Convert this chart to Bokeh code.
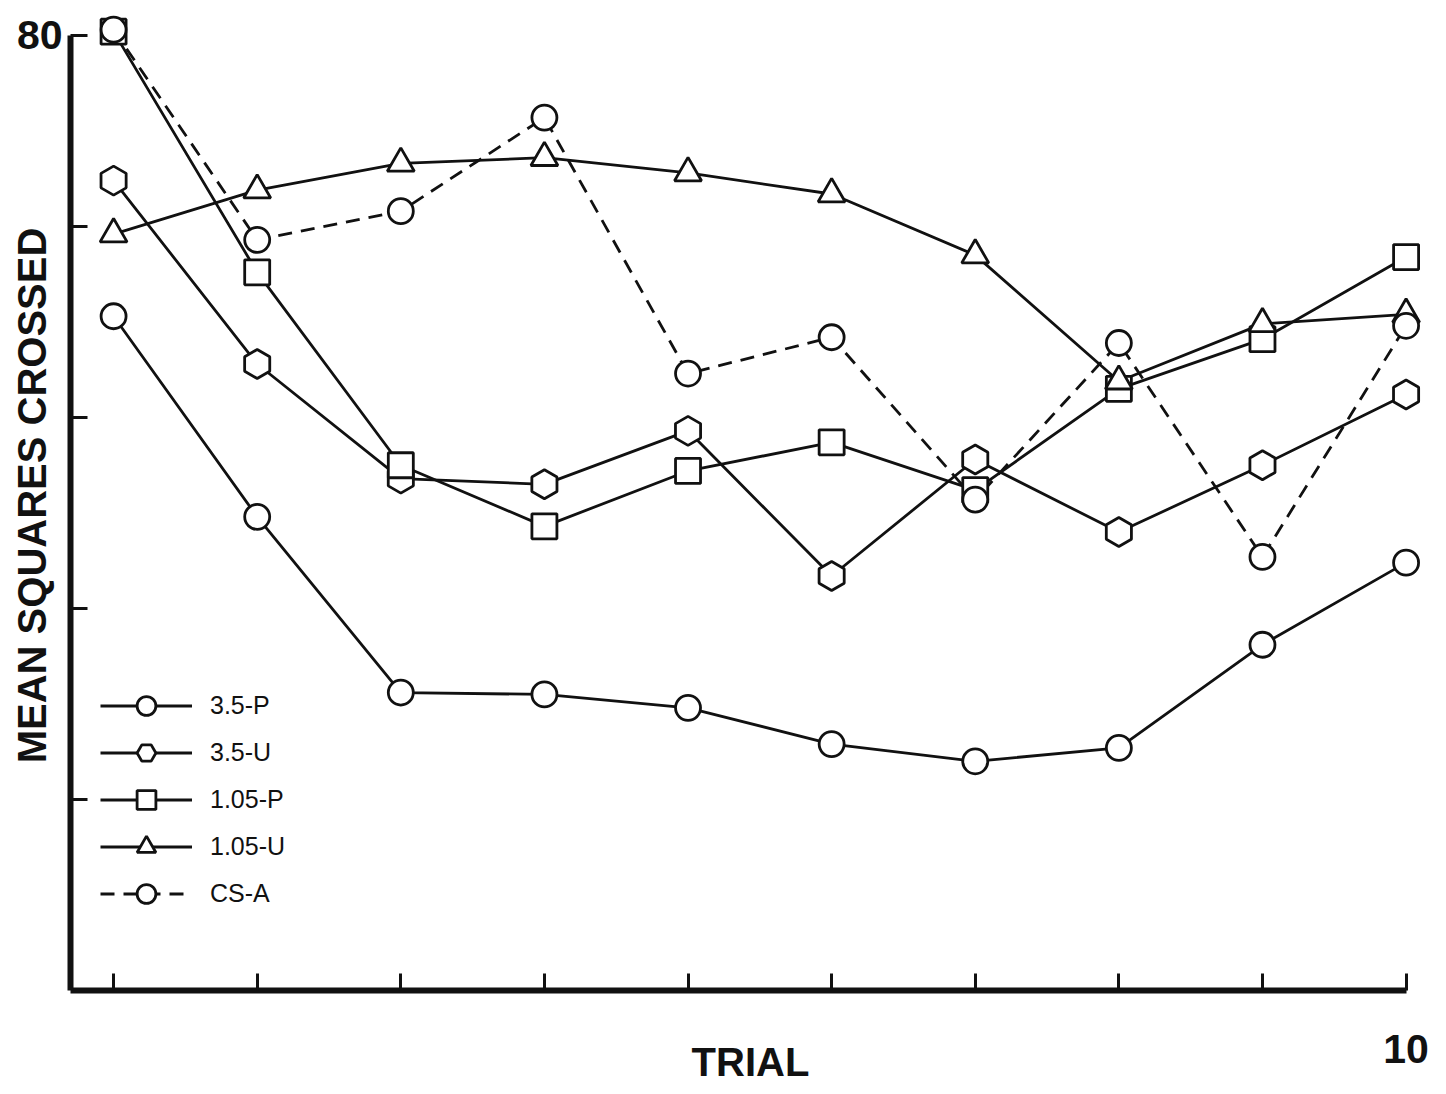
from math import pi

from bokeh.embed import file_html
from bokeh.models import FixedTicker, Legend, LegendItem, Range1d
from bokeh.plotting import figure
from bokeh.resources import INLINE

# Mean squares crossed per trial, five groups
trials = [1, 2, 3, 4, 5, 6, 7, 8, 9, 10]
p_35 = [65.3, 54.8, 45.6, 45.5, 44.8, 42.9, 42.0, 42.7, 48.1, 52.4]
u_35 = [72.4, 62.8, 56.8, 56.5, 59.3, 51.7, 57.8, 54.0, 57.5, 61.2]
p_105 = [80.2, 67.6, 57.5, 54.3, 57.2, 58.7, 56.2, 61.5, 64.1, 68.4]
u_105 = [69.6, 71.9, 73.3, 73.6, 72.8, 71.7, 68.5, 61.9, 64.9, 65.4]
cs_a = [80.3, 69.3, 70.8, 75.7, 62.3, 64.2, 55.7, 63.9, 52.7, 64.8]

y_ticks = [40, 50, 60, 70, 80]
x_tick_text = {1: "", 2: "", 3: "", 4: "", 5: "", 6: "", 7: "", 8: "", 9: "", 10: "10"}
y_tick_text = {40: "", 50: "", 60: "", 70: "", 80: "80"}

FONT = "Liberation Sans"
INK = "#111111"

X0, X1 = 0.70, 10.17
Y0, Y1 = 30, 81.83

p = figure(
    width=1446, height=1094,
    output_backend="svg", toolbar_location=None,
    x_range=Range1d(X0, X1), y_range=Range1d(Y0, Y1),
    min_border_left=70, min_border_right=16, min_border_top=0, min_border_bottom=104,
    background_fill_color="white", border_fill_color="white",
)
p.outline_line_color = None
p.grid.visible = False

for ax in (p.xaxis, p.yaxis):
    ax.axis_line_width = 6
    ax.axis_line_color = INK
    ax.major_tick_in = 17
    ax.major_tick_out = 0
    ax.major_tick_line_width = 3
    ax.major_tick_line_color = INK
    ax.minor_tick_line_color = None
    ax.major_label_text_font = FONT
    ax.major_label_text_font_style = "bold"
    ax.major_label_text_font_size = "41px"
    ax.major_label_text_color = INK
    ax.axis_label_text_font = FONT
    ax.axis_label_text_font_style = "bold"
    ax.axis_label_text_font_size = "40px"
    ax.axis_label_text_color = INK

p.xaxis.ticker = FixedTicker(ticks=trials)
p.xaxis.major_label_overrides = x_tick_text
p.xaxis.bounds = (X0, 10)
p.xaxis.major_label_standoff = 44
p.xaxis.axis_label = "TRIAL"
p.xaxis.axis_label_standoff = -26

p.yaxis.ticker = FixedTicker(ticks=y_ticks)
p.yaxis.major_label_overrides = y_tick_text
p.yaxis.bounds = (Y0, 80)
p.yaxis.major_label_standoff = 8
p.yaxis.axis_label = "MEAN SQUARES CROSSED"
p.yaxis.axis_label_standoff = -40

series = [
    ("3.5-P", p_35, "circle", 25, 0, "solid"),
    ("3.5-U", u_35, "hex", 29, pi / 2, "solid"),
    ("1.05-P", p_105, "square", 25, 0, "solid"),
    ("1.05-U", u_105, "triangle", 27, 0, "solid"),
    ("CS-A", cs_a, "circle", 25, 0, "14 9"),
]

lines = []
for name, vals, marker, size, ang, dash in series:
    lines.append(p.line(trials, vals, line_color=INK, line_width=2.8, line_dash=dash))

items = []
for (name, vals, marker, size, ang, dash), ln in zip(series, lines):
    mk = p.scatter(trials, vals, marker=marker, size=size, angle=ang,
                   fill_color="white", line_color=INK, line_width=2.8)
    items.append(LegendItem(label=name, renderers=[ln, mk]))

legend = Legend(
    items=items, location=(30, 73),
    glyph_width=92, glyph_height=47, label_height=47, spacing=0,
    padding=0, margin=0, label_standoff=18,
    label_text_font=FONT, label_text_font_size="25px", label_text_color=INK,
    border_line_color=None, background_fill_alpha=0,
)
p.add_layout(legend)

open("out.html", "w").write(file_html(p, INLINE))
